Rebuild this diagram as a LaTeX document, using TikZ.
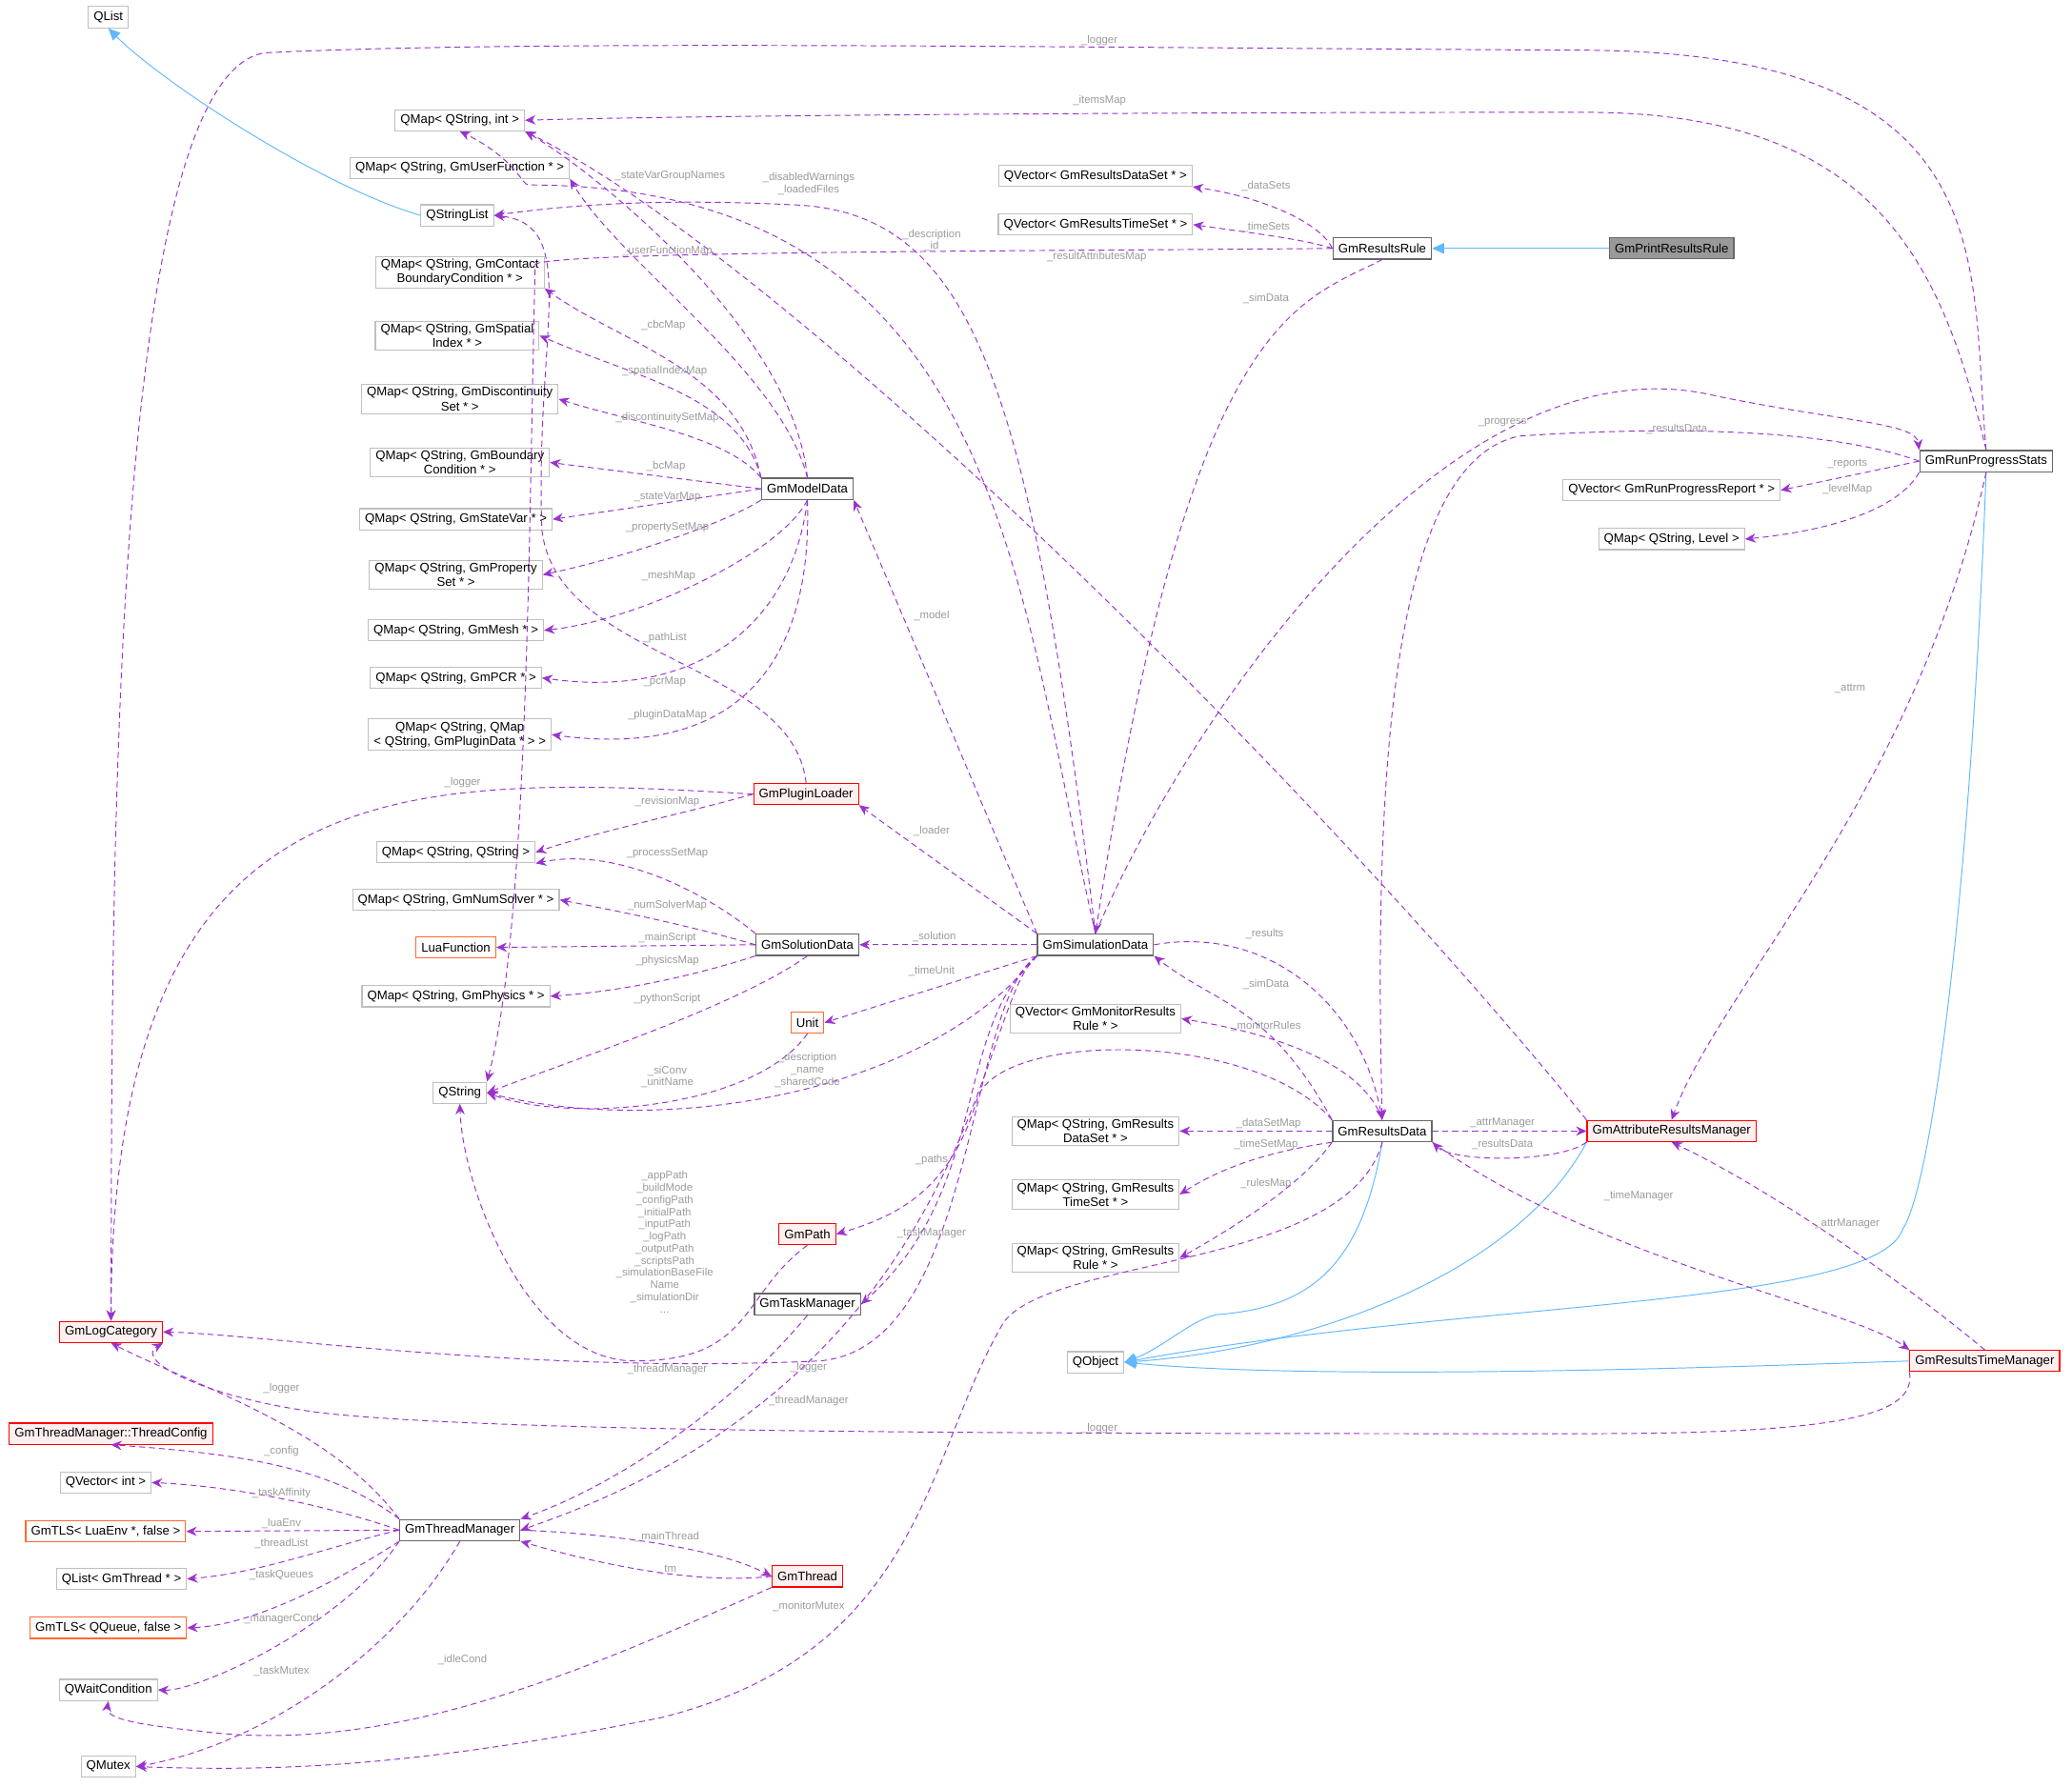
\documentclass[tikz,border=0pt]{standalone}
\usepackage{fontspec}
\setmainfont{Liberation Sans}
\usetikzlibrary{arrows.meta}
\definecolor{pur}{HTML}{9A32CD}
\definecolor{lbl}{HTML}{9A9A9A}
\definecolor{inh}{HTML}{63B8FF}
\definecolor{orn}{HTML}{FF6A33}
\begin{document}
\begin{tikzpicture}[x=1pt,y=-1pt,
 base/.style={font=\fontsize{9.5}{11}\selectfont,inner xsep=4pt,inner ysep=2pt,minimum height=16pt,align=center,fill=white},
 box/.style={base,draw=black!25,line width=0.8pt},
 dbox/.style={base,draw=black!60,line width=1pt},
 rbox/.style={base,draw=red,line width=0.8pt,fill={rgb,255:red,255;green,240;blue,240}},
 obox/.style={base,draw=orn,line width=0.8pt},
 gbox/.style={base,draw=black!60,line width=0.8pt,fill=black!40},
 dep/.style={draw=pur,line width=0.7pt,dash pattern=on 4.5pt off 3pt,-{Stealth[length=8pt,width=7pt]}},
 inh/.style={draw=inh,line width=0.7pt,-{Triangle[open,length=9pt,width=8pt,fill=inh]}},
 l/.style={font=\fontsize{8.2}{9.2}\selectfont,text=lbl,align=center,inner sep=0.5pt}]
\useasboundingbox (0,0) rectangle (1568,1352);
% nodes
\node[box] (qlist) at (82,13) {QList};
\node[box] (qmi) at (348,91) {QMap< QString, int >};
\node[box] (qmuf) at (348,127) {QMap< QString, GmUserFunction * >};
\node[box] (qsl) at (346,163) {QStringList};
\node[box] (qmcb) at (348,206) {QMap< QString, GmContact\\BoundaryCondition * >};
\node[box] (qms) at (346,254) {QMap< QString, GmSpatial\\Index * >};
\node[box] (qmd) at (348,302) {QMap< QString, GmDiscontinuity\\Set * >};
\node[box] (qmb) at (348,350) {QMap< QString, GmBoundary\\Condition * >};
\node[box] (qsv) at (345,393) {QMap< QString, GmStateVar * >};
\node[box] (qmp) at (345,435) {QMap< QString, GmProperty\\Set * >};
\node[box] (qmm) at (345,477) {QMap< QString, GmMesh * >};
\node[box] (qpcr) at (345,513) {QMap< QString, GmPCR * >};
\node[box] (qpd) at (348,556) {QMap< QString, QMap\\< QString, GmPluginData * > >};
\node[box] (qss) at (345,645) {QMap< QString, QString >};
\node[box] (qns) at (345,681) {QMap< QString, GmNumSolver * >};
\node[obox] (lua) at (345,717) {LuaFunction};
\node[box] (qph) at (345,754) {QMap< QString, GmPhysics * >};
\node[box] (qstr) at (348,827) {QString};
\node[rbox] (log) at (84,1008) {GmLogCategory};
\node[rbox] (tc) at (84,1085) {GmThreadManager::ThreadConfig};
\node[box] (qvi) at (80,1122) {QVector< int >};
\node[obox] (tlsl) at (80,1159) {GmTLS< LuaEnv *, false >};
\node[box] (qlt) at (92,1195) {QList< GmThread * >};
\node[obox] (tlsq) at (82,1232) {GmTLS< QQueue, false >};
\node[box] (qwc) at (82,1279) {QWaitCondition};
\node[box] (qmx) at (82,1337) {QMutex};
\node[dbox] (md) at (611,370) {GmModelData};
\node[rbox] (pl) at (610,601) {GmPluginLoader};
\node[dbox] (sd) at (611,715) {GmSolutionData};
\node[obox] (unit) at (611,774) {Unit};
\node[rbox] (path) at (611,934) {GmPath};
\node[dbox] (tm) at (611,987) {GmTaskManager};
\node[dbox] (thm) at (348,1158) {GmThreadManager};
\node[rbox] (thr) at (611,1193) {GmThread};
\node[dbox] (sim) at (829,715) {GmSimulationData};
\node[box] (qvds) at (829,133) {QVector< GmResultsDataSet * >};
\node[box] (qvts) at (829,170) {QVector< GmResultsTimeSet * >};
\node[dbox] (rr) at (1046,188) {GmResultsRule};
\node[gbox] (prr) at (1265,188) {GmPrintResultsRule};
\node[box] (qmr) at (829,771) {QVector< GmMonitorResults\\Rule * >};
\node[box] (qrds) at (829,856) {QMap< QString, GmResults\\DataSet * >};
\node[box] (qrts) at (829,904) {QMap< QString, GmResults\\TimeSet * >};
\node[box] (qrr) at (829,952) {QMap< QString, GmResults\\Rule * >};
\node[box] (qobj) at (829,1031) {QObject};
\node[dbox] (rd) at (1046,856) {GmResultsData};
\node[rbox] (ar) at (1265,856) {GmAttributeResultsManager};
\node[dbox] (prog) at (1503,349) {GmRunProgressStats};
\node[box] (qvr) at (1265,371) {QVector< GmRunProgressReport * >};
\node[box] (qml) at (1265,408) {QMap< QString, Level >};
\node[rbox] (tmr) at (1502,1030) {GmResultsTimeManager};
% inheritance
\draw[inh] (qsl.west) .. controls (240,140) and (120,60) .. (qlist.south);
\draw[inh] (prr.west) -- (rr.east);
\draw[inh] (rd.south) .. controls (1030,960) and (990,990) .. (920,995) .. controls (900,1000) and (880,1020) .. (qobj.east);
\draw[inh] (ar.south west) .. controls (1150,960) and (1000,1020) .. (qobj.east);
\draw[inh] (prog.south) .. controls (1490,700) and (1460,900) .. (1440,930) .. controls (1420,990) and (1100,985) .. (qobj.east);
\draw[inh] (tmr.west) .. controls (1300,1035) and (1000,1045) .. (qobj.east);
% ModelData
\draw[dep] (md.north) .. controls (600,250) and (450,130) .. (qmi.south east);
\draw[dep] (md.north) .. controls (590,280) and (470,200) .. (qmuf.south east);
\draw[dep] (md.north west) .. controls (560,280) and (470,260) .. (qmcb.south east);
\draw[dep] (md.north west) .. controls (560,300) and (480,285) .. (qms.east);
\draw[dep] (md.north west) .. controls (550,330) and (480,320) .. (qmd.east);
\draw[dep] (md.west) -- (qmb.east);
\draw[dep] (md.west) -- (qsv.east);
\draw[dep] (md.south west) .. controls (550,395) and (480,420) .. (qmp.east);
\draw[dep] (md.south) .. controls (590,420) and (480,470) .. (qmm.east);
\draw[dep] (md.south) .. controls (600,470) and (530,530) .. (qpcr.east);
\draw[dep] (md.south) .. controls (615,500) and (560,575) .. (qpd.east);
% PluginLoader
\draw[dep] (pl.north) .. controls (600,500) and (420,500) .. (410,400) .. controls (405,250) and (440,170) .. (qsl.east);
\draw[dep] (pl.west) .. controls (520,615) and (450,630) .. (qss.east);
\draw[dep] (pl.west) .. controls (300,585) and (85,580) .. (log.north);
% SolutionData
\draw[dep] (sd.north west) .. controls (540,680) and (470,640) .. (qss.south east);
\draw[dep] (sd.west) .. controls (520,700) and (470,690) .. (qns.east);
\draw[dep] (sd.west) -- (lua.east);
\draw[dep] (sd.south west) .. controls (520,740) and (470,750) .. (qph.east);
\draw[dep] (sd.south) .. controls (560,760) and (440,800) .. (qstr.east);
\draw[dep] (unit.south) .. controls (570,840) and (430,850) .. (qstr.east);
% SimulationData
\draw[dep] (sim.north) .. controls (770,450) and (760,140) .. (400,140) .. controls (395,140) and (390,120) .. (qmi.south);
\draw[dep] (sim.north) .. controls (780,300) and (740,160) .. (600,155) .. controls (500,150) and (430,155) .. (qsl.east);
\draw[dep] (sim.north west) -- (md.south east);
\draw[dep] (sim.north west) -- (pl.south east);
\draw[dep] (sim.west) -- (sd.east);
\draw[dep] (sim.south west) -- (unit.east);
\draw[dep] (sim.south west) .. controls (700,830) and (500,860) .. (qstr.east);
\draw[dep] (sim.south west) .. controls (720,780) and (750,900) .. (tm.east);
\draw[dep] (sim.south west) .. controls (740,760) and (740,1040) .. (thm.east);
\draw[dep] (sim.south west) .. controls (730,760) and (740,1020) .. (620,1030) .. controls (400,1040) and (200,1010) .. (log.east);
\draw[dep] (sim.north) .. controls (900,540) and (1100,250) .. (1300,300) .. controls (1400,320) and (1450,320) .. (prog.north west);
\draw[dep] (sim.east) .. controls (960,700) and (1030,760) .. (rd.north);
% ResultsRule
\draw[dep] (rr.west) .. controls (1000,170) and (960,150) .. (qvds.south east);
\draw[dep] (rr.west) .. controls (990,182) and (960,178) .. (qvts.east);
\draw[dep] (rr.west) .. controls (800,190) and (420,190) .. (405,200) .. controls (400,400) and (400,700) .. (qstr.north east);
\draw[dep] (rr.south) .. controls (980,230) and (900,240) .. (sim.north);
% ResultsData
\draw[dep] (rd.north west) .. controls (960,760) and (920,760) .. (sim.south east);
\draw[dep] (rd.north) .. controls (1030,800) and (950,780) .. (qmr.east);
\draw[dep] (rd.west) -- (qrds.east);
\draw[dep] (rd.south west) .. controls (970,870) and (930,880) .. (qrts.east);
\draw[dep] (rd.south west) .. controls (990,890) and (950,920) .. (qrr.east);
\draw[dep] (rd.east) -- (ar.west);
\draw[dep] (ar.south west) .. controls (1180,880) and (1100,880) .. (rd.south east);
\draw[dep] (rd.north west) .. controls (950,780) and (760,780) .. (740,830) .. controls (720,900) and (680,920) .. (path.east);
\draw[dep] (rd.south) .. controls (1020,960) and (800,950) .. (760,1000) .. controls (700,1100) and (700,1250) .. (500,1300) .. controls (300,1340) and (200,1340) .. (qmx.east);
\draw[dep] (rd.south east) .. controls (1200,950) and (1400,990) .. (tmr.north west);
% RunProgressStats
\draw[dep] (prog.north) .. controls (1490,200) and (1520,40) .. (1200,38) .. controls (800,36) and (400,30) .. (200,40) .. controls (80,60) and (85,700) .. (log.north);
\draw[dep] (prog.north) .. controls (1470,200) and (1420,85) .. (1200,85) .. controls (800,85) and (500,88) .. (qmi.east);
\draw[dep] (prog.west) -- (qvr.east);
\draw[dep] (prog.south west) .. controls (1440,380) and (1400,400) .. (qml.east);
\draw[dep] (prog.south) .. controls (1450,600) and (1300,750) .. (ar.north);
\draw[dep] (prog.west) .. controls (1400,330) and (1300,320) .. (1150,330) .. controls (1050,350) and (1040,600) .. (rd.north);
% AttributeResultsManager
\draw[dep] (ar.north west) .. controls (1000,600) and (600,200) .. (qmi.south east);
% ResultsTimeManager
\draw[dep] (tmr.north) .. controls (1440,970) and (1340,900) .. (ar.south);
\draw[dep] (tmr.south west) .. controls (1450,1070) and (1400,1085) .. (1200,1085) .. controls (800,1085) and (400,1085) .. (250,1070) .. controls (160,1060) and (100,1030) .. (log.south east);
% Path
\draw[dep] (path.south) .. controls (560,980) and (570,1030) .. (480,1030) .. controls (400,1030) and (350,900) .. (qstr.south);
% TaskManager, ThreadManager, Thread
\draw[dep] (tm.south) .. controls (540,1080) and (450,1130) .. (thm.north east);
\draw[dep] (thm.north west) .. controls (250,1080) and (150,1050) .. (log.south);
\draw[dep] (thm.north west) .. controls (250,1110) and (180,1100) .. (tc.south);
\draw[dep] (thm.west) .. controls (250,1140) and (180,1125) .. (qvi.east);
\draw[dep] (thm.west) -- (tlsl.east);
\draw[dep] (thm.west) .. controls (250,1170) and (200,1190) .. (qlt.east);
\draw[dep] (thm.south west) .. controls (250,1200) and (190,1230) .. (tlsq.east);
\draw[dep] (thm.south west) .. controls (260,1230) and (150,1280) .. (qwc.east);
\draw[dep] (thm.south) .. controls (300,1250) and (200,1320) .. (qmx.east);
\draw[dep] (thm.east) .. controls (450,1160) and (540,1170) .. (thr.west);
\draw[dep] (thr.west) .. controls (520,1200) and (440,1180) .. (thm.south east);
\draw[dep] (thr.south west) .. controls (450,1260) and (300,1330) .. (150,1310) .. controls (100,1305) and (80,1300) .. (qwc.south);
% labels
\node[l] at (507,133) {\_stateVarGroupNames};
\node[l] at (612,139) {\_disabledWarnings\\\_loadedFiles};
\node[l] at (705,182) {\_description\\\_id};
\node[l] at (830,194) {\_resultAttributesMap};
\node[l] at (505,190) {\_userFunctionMap};
\node[l] at (502,246) {\_cbcMap};
\node[l] at (503,281) {\_spatialIndexMap};
\node[l] at (505,316) {\_discontinuitySetMap};
\node[l] at (504,353) {\_bcMap};
\node[l] at (505,376) {\_stateVarMap};
\node[l] at (505,399) {\_propertySetMap};
\node[l] at (506,436) {\_meshMap};
\node[l] at (503,483) {\_pathList};
\node[l] at (503,516) {\_pcrMap};
\node[l] at (505,541) {\_pluginDataMap};
\node[l] at (350,592) {\_logger};
\node[l] at (505,607) {\_revisionMap};
\node[l] at (505,646) {\_processSetMap};
\node[l] at (505,685) {\_numSolverMap};
\node[l] at (505,710) {\_mainScript};
\node[l] at (505,727) {\_physicsMap};
\node[l] at (505,756) {\_pythonScript};
\node[l] at (505,815) {\_siConv\\\_unitName};
\node[l] at (611,810) {\_description\\\_name\\\_sharedCode};
\node[l] at (705,466) {\_model};
\node[l] at (705,629) {\_loader};
\node[l] at (707,709) {\_solution};
\node[l] at (705,735) {\_timeUnit};
\node[l] at (705,878) {\_paths};
\node[l] at (705,933) {\_taskManager};
\node[l] at (612,1035) {\_logger};
\node[l] at (612,1060) {\_threadManager};
\node[l] at (505,1036) {\_threadManager};
\node[l] at (503,940) {\_appPath\\\_buildMode\\\_configPath\\\_initialPath\\\_inputPath\\\_logPath\\\_outputPath\\\_scriptsPath\\\_simulationBaseFile\\Name\\\_simulationDir\\...};
\node[l] at (958,141) {\_dataSets};
\node[l] at (958,172) {\_timeSets};
\node[l] at (958,226) {\_simData};
\node[l] at (832,31) {\_logger};
\node[l] at (832,76) {\_itemsMap};
\node[l] at (1137,320) {\_progress};
\node[l] at (1269,325) {\_resultsData};
\node[l] at (1398,351) {\_reports};
\node[l] at (1398,370) {\_levelMap};
\node[l] at (1400,521) {\_attrm};
\node[l] at (957,707) {\_results};
\node[l] at (958,745) {\_simData};
\node[l] at (958,777) {\_monitorRules};
\node[l] at (960,850) {\_dataSetMap};
\node[l] at (958,866) {\_timeSetMap};
\node[l] at (958,896) {\_rulesMap};
\node[l] at (1137,850) {\_attrManager};
\node[l] at (1137,866) {\_resultsData};
\node[l] at (1240,905) {\_timeManager};
\node[l] at (1398,926) {\_attrManager};
\node[l] at (832,1081) {\_logger};
\node[l] at (612,1216) {\_monitorMutex};
\node[l] at (213,1051) {\_logger};
\node[l] at (213,1098) {\_config};
\node[l] at (213,1130) {\_taskAffinity};
\node[l] at (213,1153) {\_luaEnv};
\node[l] at (213,1168) {\_threadList};
\node[l] at (213,1192) {\_taskQueues};
\node[l] at (213,1225) {\_managerCond};
\node[l] at (213,1265) {\_taskMutex};
\node[l] at (505,1163) {\_mainThread};
\node[l] at (505,1188) {\_tm};
\node[l] at (350,1256) {\_idleCond};
\end{tikzpicture}
\end{document}
